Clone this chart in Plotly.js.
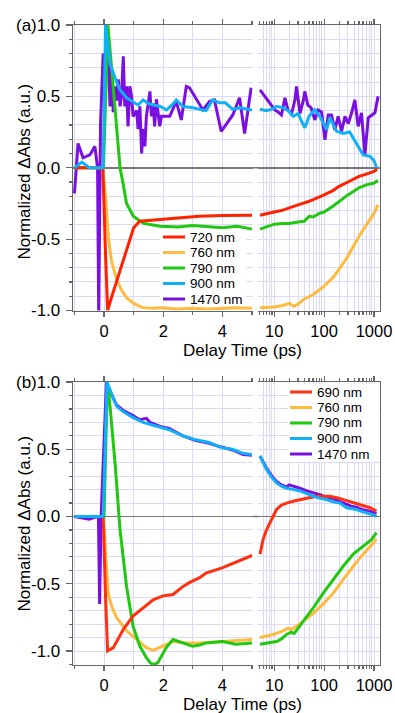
<!DOCTYPE html>
<html><head><meta charset="utf-8">
<script src="https://cdn.plot.ly/plotly-3.0.1.min.js"></script>
<style>html,body{margin:0;padding:0;background:#fff;}#chart{width:395px;height:713px;}</style>
</head><body><div id="chart"></div>
<script>
// ---------- Panel (a) data ----------
const a720_t  = [-1.0,-0.5,-0.04,0.04,0.12,0.25,0.42,0.6,0.76,0.9,1.0,1.2,1.5,1.9,2.5,3.2,4.0,4.6,5.0];
const a720_v  = [0,0,0,-0.55,-1.0,-0.91,-0.80,-0.67,-0.57,-0.48,-0.42,-0.375,-0.368,-0.362,-0.352,-0.34,-0.335,-0.335,-0.333];
const a720_tl = [5.2,7,10,14,20,30,50,70,100,150,200,300,500,700,1000,1150];
const a720_vl = [-0.333,-0.325,-0.31,-0.30,-0.28,-0.26,-0.235,-0.215,-0.19,-0.16,-0.13,-0.10,-0.06,-0.045,-0.025,-0.01];

const a760_t  = [-1,-0.5,-0.05,0.05,0.15,0.25,0.42,0.6,0.76,1.0,1.3,1.6,1.9,2.5,3.0,3.5,4.0,4.5,5.0];
const a760_v  = [0,0,0,-0.2,-0.5,-0.65,-0.78,-0.86,-0.91,-0.95,-0.98,-0.985,-0.98,-0.99,-0.985,-0.99,-0.985,-0.98,-0.985];
const a760_tl = [5.2,8,10,15,20,25,30,40,60,100,150,200,300,500,700,1000,1200];
const a760_vl = [-0.98,-0.975,-0.975,-0.965,-0.95,-0.97,-0.955,-0.92,-0.89,-0.83,-0.77,-0.71,-0.62,-0.48,-0.40,-0.32,-0.26];

const a790_t  = [-1,-0.5,-0.02,0.13,0.31,0.54,0.65,0.76,0.99,1.33,1.9,2.5,3.0,3.5,4.0,4.5,5.0];
const a790_v  = [0,0,0,1.0,0.54,0.0,-0.12,-0.25,-0.34,-0.39,-0.41,-0.415,-0.405,-0.41,-0.42,-0.41,-0.43];
const a790_tl = [5.2,7,10,15,20,30,40,50,60,80,100,150,200,300,500,700,1000,1200];
const a790_vl = [-0.43,-0.415,-0.395,-0.39,-0.39,-0.38,-0.375,-0.34,-0.345,-0.32,-0.31,-0.27,-0.235,-0.19,-0.14,-0.12,-0.107,-0.09];

const a900_t  = [-1.0,-0.75,-0.5,-0.2,-0.03,0.05,0.2,0.37,0.54,0.76,0.98,1.15,1.32,1.5,1.66,1.9,2.11,2.3,2.44,2.66,3.0,3.33,3.45,3.67,3.9,4.1,4.34,4.6,5.0];
const a900_v  = [0.0,0.04,0.0,0.0,0.0,1.0,0.73,0.63,0.545,0.49,0.46,0.44,0.475,0.45,0.44,0.43,0.405,0.44,0.475,0.43,0.42,0.405,0.40,0.475,0.455,0.455,0.41,0.42,0.405];
const a900_tl = [5.2,7,9,11.2,15,19,24,30,41,50,65,82,112,130,178,241,325,446,607,828,1000,1120];
const a900_vl = [0.41,0.40,0.41,0.43,0.42,0.40,0.36,0.38,0.28,0.36,0.405,0.36,0.265,0.35,0.255,0.24,0.25,0.17,0.09,0.08,0.05,0.0];

const a1470_t  = [-1.0,-0.88,-0.71,-0.48,-0.31,-0.22,-0.18,-0.12,-0.03,0.03,0.09,0.14,0.2,0.26,0.31,0.37,0.42,0.48,0.54,0.59,0.65,0.7,0.76,0.81,0.87,0.93,0.98,1.1,1.15,1.21,1.27,1.32,1.38,1.43,1.55,1.6,1.66,1.71,1.77,1.88,1.94,2.05,2.22,2.44,2.61,2.78,2.89,3.34,3.57,3.73,3.96,4.35,4.58,4.75,4.97];
const a1470_v  = [-0.18,0.17,0.07,0.09,0.15,0.0,-1.05,0.3,0.80,0.72,0.66,0.80,0.43,0.685,0.39,0.57,0.47,0.62,0.43,0.50,0.78,0.43,0.57,0.29,0.57,0.50,0.36,0.40,0.27,0.43,0.10,0.27,0.15,0.36,0.535,0.36,0.45,0.29,0.48,0.29,0.36,0.36,0.36,0.465,0.335,0.57,0.56,0.405,0.465,0.475,0.255,0.37,0.49,0.24,0.56];
const a1470_tl = [5.2,8.2,10.3,12,14,16.4,19,22.3,26,28,32.8,38.5,41,47,55,65,76,89,104,121,141,164,191,224,262,305,356,413,481,561,656,766,895,1040,1210];
const a1470_vl = [0.545,0.455,0.405,0.39,0.37,0.49,0.40,0.38,0.475,0.57,0.38,0.475,0.535,0.44,0.42,0.335,0.405,0.39,0.195,0.37,0.37,0.265,0.36,0.255,0.36,0.31,0.385,0.475,0.29,0.385,0.09,0.35,0.37,0.385,0.5];

// ---------- Panel (b) data ----------
const b690_t  = [-1.0,-0.5,-0.03,0.05,0.12,0.31,0.65,0.98,1.32,1.66,1.99,2.33,2.67,2.9,3.23,3.45,4.01,4.58,5.0];
const b690_v  = [0,0,0,-0.6,-1.0,-0.975,-0.84,-0.74,-0.68,-0.62,-0.59,-0.58,-0.52,-0.49,-0.455,-0.42,-0.38,-0.33,-0.29];
const b690_tl = [5.2,6.0,7.0,8.2,9.5,11.1,14,17.7,25,32.7,50,70.8,100,130,180,241,330,446,600,828,1000,1120];
const b690_vl = [-0.28,-0.17,-0.1,-0.047,0.01,0.052,0.085,0.10,0.115,0.126,0.14,0.15,0.152,0.15,0.14,0.126,0.115,0.10,0.085,0.065,0.05,0.04];

const b760_t  = [-1,-0.5,-0.02,0.06,0.14,0.26,0.42,0.76,1.1,1.43,1.66,1.99,2.33,2.78,3.23,4.0,4.5,5.0];
const b760_v  = [0,0,0,-0.3,-0.57,-0.67,-0.75,-0.85,-0.915,-0.975,-0.995,-0.965,-0.93,-0.94,-0.94,-0.93,-0.92,-0.915];
const b760_tl = [5.2,9.6,15,19.1,22,27,38,60.5,96,152,241,383,607,850,1120];
const b760_vl = [-0.90,-0.877,-0.85,-0.83,-0.84,-0.82,-0.78,-0.72,-0.65,-0.57,-0.47,-0.37,-0.28,-0.22,-0.17];

const b790_t  = [-1,-0.5,0.0,0.1,0.15,0.2,0.37,0.54,0.76,0.98,1.21,1.43,1.55,1.66,1.75,1.82,2.1,2.33,2.67,3.0,3.23,3.45,4.01,4.45,5.0];
const b790_v  = [0,0,0,0.9,0.94,0.82,0.40,-0.1,-0.52,-0.815,-0.965,-1.05,-1.085,-1.10,-1.095,-1.085,-0.975,-0.915,-0.94,-0.965,-0.955,-0.94,-0.93,-0.95,-0.94];
const b790_tl = [5.2,8,11.1,14,17.7,22,25,38,60.5,96,152,241,383,607,900,1120];
const b790_vl = [-0.95,-0.94,-0.93,-0.91,-0.877,-0.86,-0.87,-0.78,-0.68,-0.57,-0.47,-0.37,-0.28,-0.22,-0.17,-0.12];

const b900_t  = [-1,-0.5,-0.03,0.1,0.2,0.42,0.64,0.98,1.32,1.77,2.2,2.66,3.1,3.55,3.89,4.0,4.34,4.7,5.0];
const b900_v  = [0,0,0,1.0,0.94,0.82,0.78,0.735,0.70,0.67,0.645,0.60,0.57,0.55,0.52,0.51,0.50,0.47,0.46];
const b900_tl = [5.2,7.0,9,11.1,14,17.7,25,32.7,45,60.5,85,112,150,207,283,446,600,828,1000,1120];
const b900_vl = [0.45,0.35,0.29,0.25,0.225,0.21,0.20,0.19,0.17,0.15,0.135,0.126,0.11,0.10,0.065,0.052,0.035,0.02,0.01,0.0];

const b1470_t  = [-1,-0.7,-0.5,-0.25,-0.19,-0.15,-0.1,0.08,0.2,0.42,0.64,0.98,1.2,1.43,1.55,1.66,1.9,2.2,2.66,3.1,3.55,3.9,4.34,4.7,5.0];
const b1470_v  = [0,-0.01,-0.02,0,-0.01,-0.65,0.0,1.0,0.93,0.83,0.79,0.75,0.72,0.73,0.70,0.69,0.67,0.655,0.60,0.565,0.545,0.52,0.495,0.46,0.455];
const b1470_tl = [5.2,7.0,9,11.1,14,17.7,20,25,32.7,45,60.5,85,112,150,207,283,350,446,600,828,1120];
const b1470_vl = [0.45,0.36,0.30,0.26,0.235,0.22,0.235,0.225,0.21,0.19,0.175,0.16,0.14,0.135,0.11,0.09,0.077,0.07,0.05,0.04,0.02];

// ---------- labels ----------
const legendA = ['720 nm','760 nm','790 nm','900 nm','1470 nm'];
const legendB = ['690 nm','760 nm','790 nm','900 nm','1470 nm'];
const yTickVals = [-1,-0.5,0,0.5,1];
const yTickText = ['-1.0','-0.5','0.0','0.5','1.0'];
const xLinTickVals = [0,2,4];
const xLinTickText = ['0','2','4'];
const xLogTickVals = [10,100,1000];
const xLogTickText = ['10','100','1000'];
const yTitle = 'Normalized ΔAbs (a.u.)';
const xTitle = 'Delay Time (ps)';

// ---------- styling ----------
const W = 395, H = 713;
const FONT = 'Liberation Sans, Arial, Helvetica, sans-serif';
const colA = ['#ff2200','#ffbb40','#20c810','#10b0f8','#7a10e0'];
const colB = ['#ff3010','#ffbb40','#20c810','#10b0f8','#7a10e0'];
const GRID = '#dadaf6', AX = '#666';
const fx = p => p / W, fy = p => 1 - p / H;

const seriesA = [[a720_t,a720_v,a720_tl,a720_vl],[a760_t,a760_v,a760_tl,a760_vl],[a790_t,a790_v,a790_tl,a790_vl],[a900_t,a900_v,a900_tl,a900_vl],[a1470_t,a1470_v,a1470_tl,a1470_vl]];
const seriesB = [[b690_t,b690_v,b690_tl,b690_vl],[b760_t,b760_v,b760_tl,b760_vl],[b790_t,b790_v,b790_tl,b790_vl],[b900_t,b900_v,b900_tl,b900_vl],[b1470_t,b1470_v,b1470_tl,b1470_vl]];

const traces = [];
function addSeries(series, cols, order, xl, yl, xg, yg) {
  order.forEach(i => {
    const s = series[i];
    traces.push({x: s[0], y: s[1], xaxis: xl, yaxis: yl, mode: 'lines', line: {color: cols[i], width: 3}, showlegend: false, hoverinfo: 'skip'});
    traces.push({x: s[2], y: s[3], xaxis: xg, yaxis: yg, mode: 'lines', line: {color: cols[i], width: 3}, showlegend: false, hoverinfo: 'skip'});
  });
}
addSeries(seriesA, colA, [4,1,2,0,3], 'x', 'y', 'x2', 'y2');
addSeries(seriesB, colB, [4,1,2,0,3], 'x3', 'y3', 'x4', 'y4');

// minor tick positions (grid helpers)
const logMinor = [];
[1,10,100].forEach(d => { for (let k = 2; k <= 9; k++) { if (d*k >= 5) logMinor.push(d*k); } });
const linMinor = [-1,1,3,5];
function yMinor(lo) { const r = []; for (let v = lo; v <= 0.95; v += 0.1) { const q = Math.round(v*10)/10; if (Math.abs(q*2 - Math.round(q*2)) > 1e-6) r.push(q); } return r; }

const XL0 = 73, XL1 = 252.6, XG0 = 258.3, XG1 = 380;
const A0 = 25, A1 = 310.5, B0 = 382, B1 = 665;
const tickFont = {family: FONT, size: 17, color: '#000'};
const xTickFont = {family: FONT, size: 16.5, color: '#000'};

function xLin(anchor) {
  return {domain: [fx(XL0), fx(XL1)], range: [-1.05, 5.02], anchor: anchor, showline: true, linecolor: AX, linewidth: 1.3,
    mirror: 'ticks', ticks: 'outside', ticklen: 5, tickcolor: AX, tickwidth: 1.2, tickmode: 'array', tickvals: xLinTickVals, ticktext: xLinTickText,
    tickfont: xTickFont, showgrid: true, gridcolor: GRID, gridwidth: 1, zeroline: false, automargin: false, ticklabelstandoff: 0,
    minor: {tickmode: 'array', tickvals: linMinor, ticks: 'outside', ticklen: 3, tickcolor: AX, showgrid: true, gridcolor: GRID}};
}
function xLog(anchor) {
  return {domain: [fx(XG0), fx(XG1)], type: 'log', range: [Math.log10(4.8), Math.log10(1318)], anchor: anchor, showline: true, linecolor: AX, linewidth: 1.3,
    mirror: 'ticks', ticks: 'outside', ticklen: 5, tickcolor: AX, tickwidth: 1.2, tickmode: 'array', tickvals: xLogTickVals, ticktext: xLogTickText,
    tickfont: xTickFont, showgrid: true, gridcolor: GRID, gridwidth: 1, zeroline: false, automargin: false, ticklabelstandoff: 0,
    minor: {tickmode: 'array', tickvals: logMinor, ticks: 'outside', ticklen: 3, tickcolor: AX, showgrid: true, gridcolor: GRID}};
}
function yLeft(anchor, top, bottom, rng) {
  return {domain: [fy(bottom), fy(top)], range: rng, anchor: anchor, showline: true, linecolor: AX, linewidth: 1.3, mirror: false,
    ticks: 'outside', ticklen: 6, tickcolor: AX, tickwidth: 1.2, tickmode: 'array', tickvals: yTickVals, ticktext: yTickText, tickfont: tickFont,
    showgrid: true, gridcolor: GRID, zeroline: true, zerolinecolor: '#777', zerolinewidth: 1.5, automargin: false, ticklabelstandoff: 2,
    minor: {tickmode: 'array', tickvals: yMinor(rng[0] < -1.05 ? -1.1 : -0.9), ticks: 'outside', ticklen: 3, tickcolor: AX, showgrid: true, gridcolor: GRID}};
}
function yRight(anchor, top, bottom, rng) {
  return {domain: [fy(bottom), fy(top)], range: rng, anchor: anchor, side: 'right', showline: true, linecolor: AX, linewidth: 1.3, mirror: false,
    ticks: '', showticklabels: false, tickmode: 'array', tickvals: yTickVals, showgrid: true, gridcolor: GRID,
    zeroline: true, zerolinecolor: '#777', zerolinewidth: 1.5, automargin: false,
    minor: {tickmode: 'array', tickvals: yMinor(rng[0] < -1.05 ? -1.1 : -0.9), ticks: '', showgrid: true, gridcolor: GRID}};
}

const rA = [-1.0, 1.0], rB = [-1.104, 1.0];
const layout = {
  width: W, height: H, autosize: false, margin: {l: 0, r: 0, t: 0, b: 0, pad: 0},
  paper_bgcolor: '#fff', plot_bgcolor: 'rgba(0,0,0,0)', showlegend: false,
  font: {family: FONT, size: 17, color: '#000'},
  xaxis: xLin('y'), xaxis2: xLog('y2'), yaxis: yLeft('x', A0, A1, rA), yaxis2: yRight('x2', A0, A1, rA),
  xaxis3: xLin('y3'), xaxis4: xLog('y4'), yaxis3: yLeft('x3', B0, B1, rB), yaxis4: yRight('x4', B0, B1, rB),
  shapes: [], annotations: []
};

// zero line across the axis break
['y', 'y3'].forEach(yr => layout.shapes.push({type: 'line', xref: 'paper', yref: yr, x0: fx(XL1), x1: fx(XG0), y0: 0, y1: 0, line: {color: '#777', width: 1.5}, layer: 'below'}));

// titles and panel labels
function ann(text, x, y, opts) { layout.annotations.push(Object.assign({text: text, xref: 'paper', yref: 'paper', x: fx(x), y: fy(y), showarrow: false, font: {family: FONT, size: 17, color: '#000'}, xanchor: 'center', yanchor: 'middle'}, opts || {})); }
ann('(a)', 26, 25); ann('(b)', 26, 382);
ann(yTitle, 23.5, 172, {textangle: -90}); ann(yTitle, 23.5, 524, {textangle: -90});
ann(xTitle, 242, 351); ann(xTitle, 242, 704);

// legends (manual, to match compact spacing)
function legend(names, cols, lx0, lx1, tx, y0, dy, box) {
  layout.shapes.push({type: 'rect', xref: 'paper', yref: 'paper', x0: fx(box[0]), x1: fx(box[1]), y0: fy(box[3]), y1: fy(box[2]), fillcolor: '#fff', line: {width: 0}, layer: 'above'});
  names.forEach((n, i) => {
    const y = y0 + i * dy;
    layout.shapes.push({type: 'line', xref: 'paper', yref: 'paper', x0: fx(lx0), x1: fx(lx1), y0: fy(y), y1: fy(y), line: {color: cols[i], width: 3}, layer: 'above'});
    ann(n, tx, y, {xanchor: 'left', borderpad: 0, font: {family: FONT, size: 13.5, color: '#000'}});
  });
}
legend(legendA, colA, 163, 185, 189, 237, 15.5, [160, 246, 229, 305]);
legend(legendB, colB, 290, 312, 316, 392, 15.5, [288, 379, 384, 462]);

Plotly.newPlot('chart', traces, layout, {staticPlot: true, displayModeBar: false});
</script></body></html>
